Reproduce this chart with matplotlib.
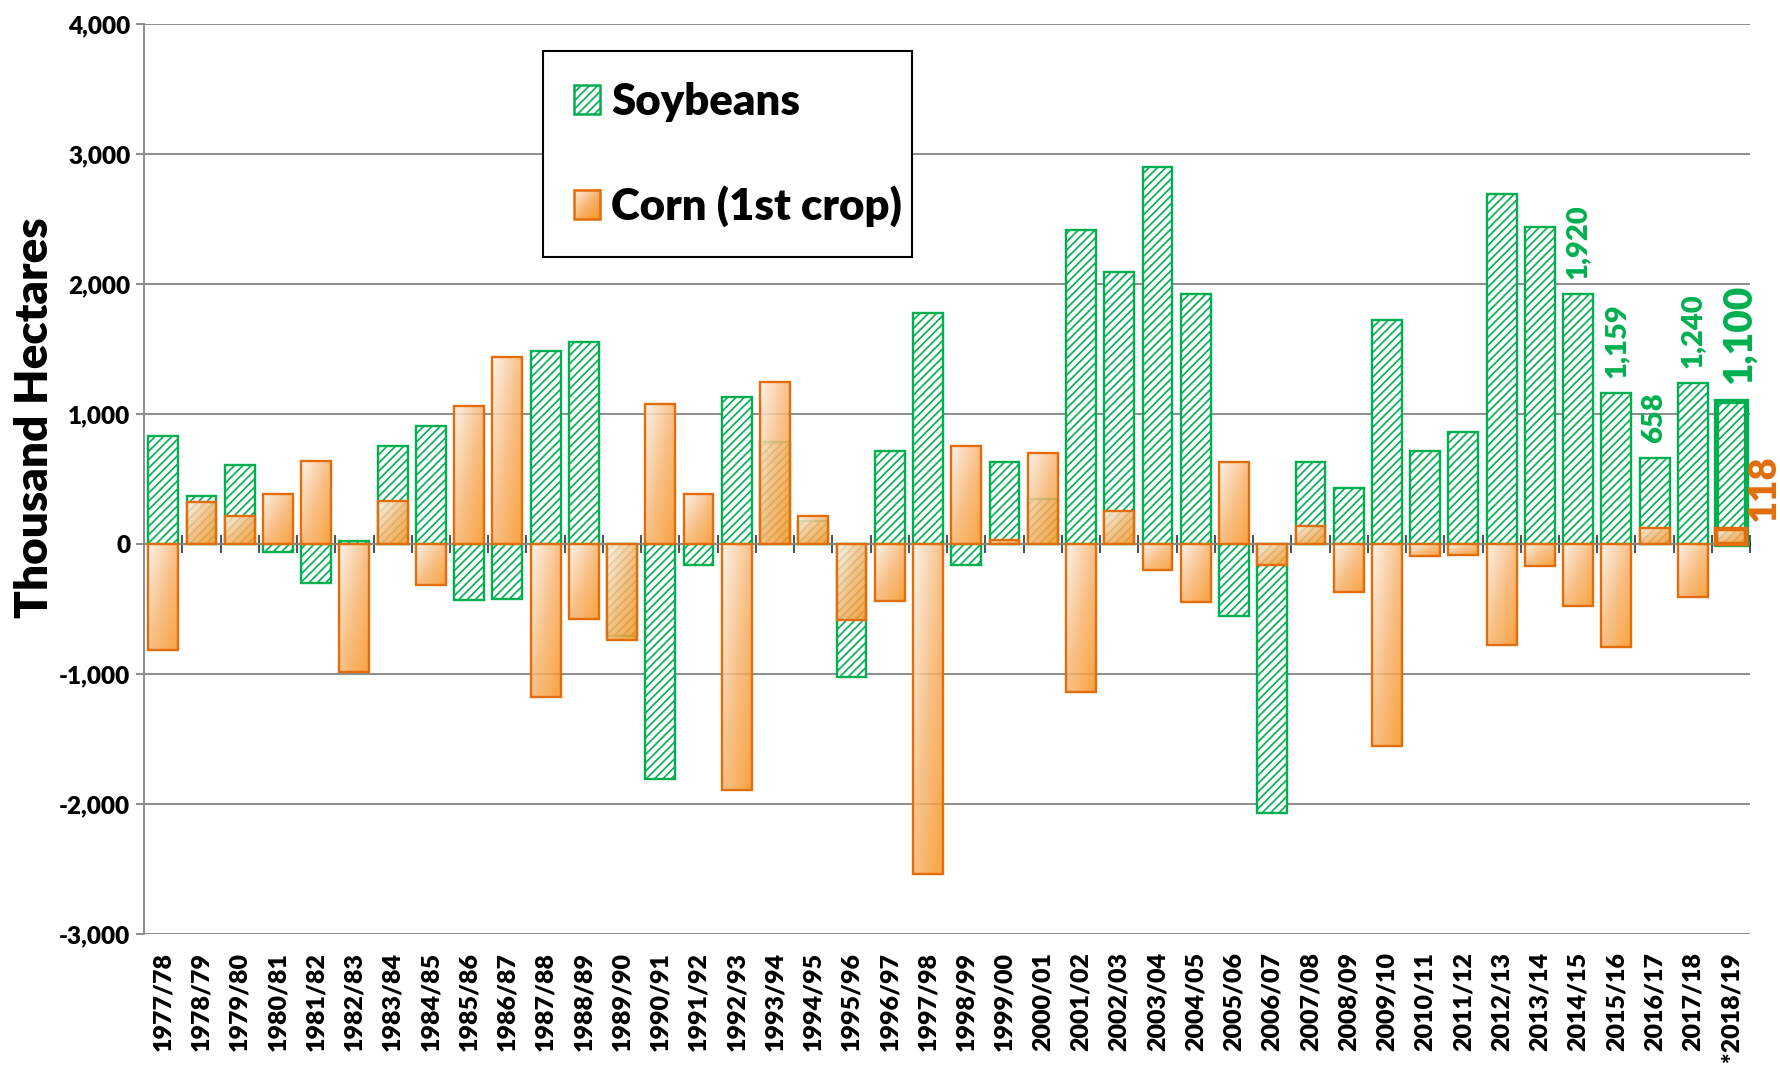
import numpy as np
import matplotlib
matplotlib.use("Agg")
import matplotlib.pyplot as plt
from matplotlib.patches import Rectangle, Patch
from matplotlib.colors import LinearSegmentedColormap
from matplotlib.legend_handler import HandlerBase
from matplotlib.image import BboxImage
from matplotlib.transforms import Bbox, TransformedBbox
from matplotlib.ticker import FuncFormatter

# data (change in planted area vs previous season, thousand hectares)
seasons = ["1977/78", "1978/79", "1979/80", "1980/81", "1981/82", "1982/83",
           "1983/84", "1984/85", "1985/86", "1986/87", "1987/88", "1988/89",
           "1989/90", "1990/91", "1991/92", "1992/93", "1993/94", "1994/95",
           "1995/96", "1996/97", "1997/98", "1998/99", "1999/00", "2000/01",
           "2001/02", "2002/03", "2003/04", "2004/05", "2005/06", "2006/07",
           "2007/08", "2008/09", "2009/10", "2010/11", "2011/12", "2012/13",
           "2013/14", "2014/15", "2015/16", "2016/17", "2017/18", "*2018/19"]
soybeans = [830, 370, 605, -60, -300, 20, 755, 910, -430, -425, 1485, 1550,
            -705, -1810, -165, 1130, 785, 180, -1020, 715, 1775, -165, 628, 345,
            2415, 2090, 2900, 1925, -555, -2070, 628, 428, 1725, 712, 862, 2695,
            2440, 1920, 1159, 658, 1240, 1100]
corn = [-812, 323, 218, 385, 640, -988, 328, -315, 1060, 1440, -1177, -577,
        -737, 1077, 385, -1890, 1245, 215, -585, -438, -2535, 753, 31, 697,
        -1140, 252, -200, -446, 630, -158, 141, -369, -1554, -92, -82, -779,
        -170, -480, -792, 126, -404, 118]
soy_labelled = [37, 38, 39, 40]

GREEN = "#00b050"
ORANGE = "#e46c0a"
GRID = "#8c8c8c"
corn_cmap = LinearSegmentedColormap.from_list("corn", ["#fdf0e4", "#f7b672", "#f7931e"])

plt.rcParams['font.family'] = ['Lato', 'DejaVu Sans']
plt.rcParams['font.weight'] = 'heavy'
plt.rcParams['hatch.linewidth'] = 1.2

# diagonal gradient, light top-left to dark bottom-right
gv = np.linspace(0, 1, 60)[:, None]
gu = np.linspace(0, 1, 20)[None, :]
grad = (gu + gv) / 2


class GradientHandler(HandlerBase):
    def create_artists(self, legend, orig_handle, xdescent, ydescent,
                       width, height, fontsize, trans):
        x0, y0 = -xdescent, -ydescent
        bb = TransformedBbox(Bbox.from_bounds(x0, y0, width, height), trans)
        img = BboxImage(bb, cmap=corn_cmap, interpolation='bilinear',
                        origin='upper')
        img.set_data(grad)
        img.set_clim(0, 1)
        edge = Rectangle((x0, y0), width, height, facecolor='none',
                         edgecolor=ORANGE, lw=1.8, transform=trans)
        return [img, edge]


fig = plt.figure(figsize=(17.81, 10.70), dpi=100)
ax = fig.add_axes([0.0809, 0.1271, 0.9018, 0.8505])

x = np.arange(len(seasons))
width = 0.78

soy_bars = ax.bar(x, soybeans, width, facecolor='white', edgecolor=GREEN,
                  hatch='////', lw=1.7, zorder=2)
corn_bars = ax.bar(x, corn, width, facecolor='none', edgecolor=ORANGE,
                   lw=1.7, zorder=4)
for rect in corn_bars:
    x0, y0 = rect.get_x(), rect.get_y()
    w, h = rect.get_width(), rect.get_height()
    lo, hi = min(y0, y0 + h), max(y0, y0 + h)
    im = ax.imshow(grad, cmap=corn_cmap, vmin=0, vmax=1,
                   extent=(x0, x0 + w, lo, hi), origin='upper',
                   aspect='auto', interpolation='bilinear', alpha=0.85,
                   zorder=3)
    im.set_clip_path(rect)

# latest season drawn with heavy outline
soy_bars[-1].set_linewidth(3.8)
corn_bars[-1].set_linewidth(3.2)

ax.set_xlim(-0.5, len(seasons) - 0.5)
ax.set_ylim(-3000, 4000)
ax.set_yticks(np.arange(-3000, 4001, 1000))
ax.yaxis.set_major_formatter(FuncFormatter(lambda v, p: f"{v:,.0f}"))
ax.grid(axis='y', color=GRID, lw=1.4, zorder=0)
ax.set_axisbelow(True)
ax.tick_params(axis='y', length=6, width=1.4, color=GRID, labelsize=17.5, pad=4)
ax.set_xticks(x)
ax.set_xticklabels(seasons, rotation=90, fontsize=18)
ax.tick_params(axis='x', length=0, pad=13)
for side in ['top', 'right', 'bottom']:
    ax.spines[side].set_visible(False)
ax.spines['left'].set_color(GRID)
ax.spines['left'].set_linewidth(1.4)

ax.set_ylabel("Thousand Hectares", fontsize=33, fontweight='heavy')
ax.yaxis.set_label_coords(-0.0554, 0.567)

# zero line with category separators
sec = ax.secondary_xaxis(3 / 7)
sec.set_xticks(np.arange(-0.5, len(seasons), 1))
sec.tick_params(axis='x', which='both', top=True, bottom=True, direction='out',
                length=6.5, width=1.1, color='#222222',
                labeltop=False, labelbottom=False)
for side in ['top', 'bottom']:
    sec.spines[side].set_color('black')
    sec.spines[side].set_linewidth(1.5)

# value labels
for i in soy_labelled:
    ax.annotate(f"{soybeans[i]:,.0f}", xy=(x[i], soybeans[i]), xytext=(0, 11),
                textcoords='offset points', rotation=90, ha='center',
                va='bottom', color=GREEN, fontsize=21)
ax.annotate(f"{soybeans[-1]:,.0f}", xy=(x[-1], soybeans[-1]), xytext=(6, 12),
            textcoords='offset points', rotation=90, ha='center', va='bottom',
            color=GREEN, fontsize=28)
ax.annotate(f"{corn[-1]:,.0f}", xy=(x[-1], corn[-1]), xytext=(24, 5),
            textcoords='offset points', rotation=90, ha='center', va='bottom',
            color=ORANGE, fontsize=27.5)

soy_handle = Patch(facecolor='white', edgecolor=GREEN, hatch='////', lw=1.8)
corn_handle = Patch(facecolor='#f9c28e', edgecolor=ORANGE)
leg = ax.legend([soy_handle, corn_handle], ["Soybeans", "Corn (1st crop)"],
                handler_map={corn_handle: GradientHandler()},
                loc='upper left', bbox_to_anchor=(0.2484, 0.737, 0.2298, 0.233),
                mode='expand', fontsize=31.5, frameon=True, fancybox=False,
                edgecolor='black', framealpha=1, borderpad=0.7,
                labelspacing=1.44, handlelength=0.6, handleheight=0.65,
                handletextpad=0.25, borderaxespad=0)
leg.get_frame().set_linewidth(1.5)

fig.savefig("out.png", dpi=100)
